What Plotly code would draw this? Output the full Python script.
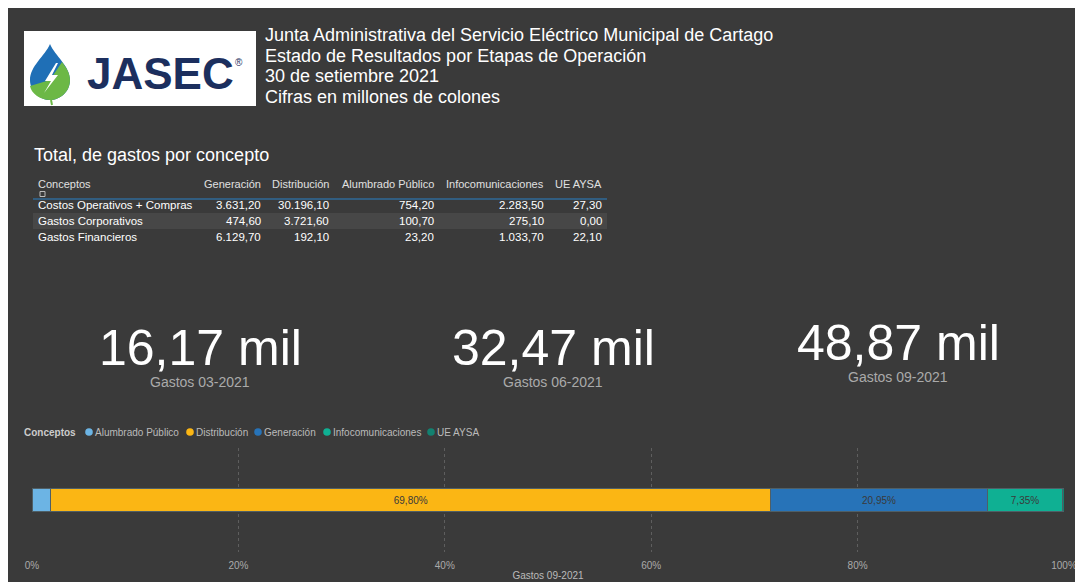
import plotly.graph_objects as go

# figure size and on-screen origin of the figure (body margin)
FW, FH = 1075, 582
OX, OY = 8, 8

# ---------------- data ----------------
title_lines = [
    "Junta Administrativa del Servicio Eléctrico Municipal de Cartago",
    "Estado de Resultados por Etapas de Operación",
    "30 de setiembre 2021",
    "Cifras en millones de colones",
]
table_title = "Total, de gastos por concepto"
table_columns = ["Generación", "Distribución", "Alumbrado Público", "Infocomunicaciones", "UE AYSA"]
row_labels = ["Costos Operativos + Compras", "Gastos Corporativos", "Gastos Financieros"]
generacion = [3631.20, 474.60, 6129.70]
distribucion = [30196.10, 3721.60, 192.10]
alumbrado = [754.20, 100.70, 23.20]
infocom = [2283.50, 275.10, 1033.70]
ue_aysa = [27.30, 0.00, 22.10]

kpi_values = ["16,17 mil", "32,47 mil", "48,87 mil"]
kpi_labels = ["Gastos 03-2021", "Gastos 06-2021", "Gastos 09-2021"]

bar_categories = ["Alumbrado Público", "Distribución", "Generación", "Infocomunicaciones", "UE AYSA"]
bar_totals = [sum(alumbrado), sum(distribucion), sum(generacion), sum(infocom), sum(ue_aysa)]
bar_colors = ["#6cb4e4", "#fbb614", "#2773b8", "#0fb093", "#138170"]
x_ticks = [0, 20, 40, 60, 80, 100]

# ---------------- helpers (screen pixel -> paper) ----------------
def px(x):
    return (x - OX) / FW

def py(y):
    return 1 - (y - OY) / FH

def fmt(v):
    s = f"{v:,.2f}"
    return s.replace(",", "X").replace(".", ",").replace("X", ".")

FONT = "Liberation Sans, Arial, sans-serif"
BG = "#3a3a3a"

fig = go.Figure()

# ---------------- bar chart ----------------
grand = sum(bar_totals)
for cat, val, col in zip(bar_categories, bar_totals, bar_colors):
    pct = val / grand * 100
    fig.add_trace(go.Bar(
        x=[val], y=["Gastos 09-2021"], orientation="h", name=cat,
        marker=dict(color=col, line=dict(color="#4f5f66", width=1)),
        text=[f"{pct:.2f}%".replace(".", ",")], textposition="inside",
        insidetextanchor="middle",
        insidetextfont=dict(color="#3a3a3a", size=10, family=FONT),
        width=0.22, showlegend=False, hoverinfo="name+x",
    ))

fig.update_layout(
    width=FW, height=FH,
    margin=dict(l=0, r=0, t=0, b=0, autoexpand=False),
    paper_bgcolor=BG, plot_bgcolor="rgba(0,0,0,0)",
    barmode="stack", barnorm="percent",
    separators=",.",
    uniformtext=dict(minsize=9, mode="hide"),
    font=dict(family=FONT, color="#bbbbbb"),
    showlegend=False,
    xaxis=dict(
        domain=[px(32), px(1064)], range=[0, 100], automargin=False,
        tickvals=x_ticks, ticktext=[f"{t}%" for t in x_ticks],
        tickfont=dict(size=10, color="#aaaaaa"),
        showgrid=True, gridcolor="#5e5e5e", griddash="dot", gridwidth=1,
        zeroline=False, showline=False, ticks="",
        ticklabelstandoff=6,
        title=dict(text="Gastos 09-2021", font=dict(size=10, color="#bbbbbb"), standoff=1),
    ),
    yaxis=dict(
        domain=[py(552), py(448)], visible=False, range=[-0.5, 0.5], automargin=False,
    ),
)

shapes = []
# logo box
shapes.append(dict(type="rect", xref="paper", yref="paper", x0=px(24), x1=px(256), y0=py(106), y1=py(31),
                   fillcolor="white", line=dict(width=0), layer="below"))

def path(points_cmd):
    out = []
    for tok in points_cmd:
        if isinstance(tok, str):
            out.append(tok)
        else:
            out.append(f"{px(tok[0]):.5f},{py(tok[1]):.5f}")
    return " ".join(out)

drop = path(["M", (50, 44), "C", (45, 56), (30, 66), (30, 80), "C", (30, 92), (40, 100), (50, 100),
             "C", (60, 100), (70, 92), (70, 80), "C", (70, 66), (55, 56), (50, 44), "Z"])
green = path(["M", (70, 80), "C", (70, 92), (60, 100), (50, 100), "C", (40, 100), (31, 93), (30, 86),
              "L", (50, 80), "L", (62, 62), "C", (66, 67), (70, 73), (70, 80), "Z"])
bolt = path(["M", (56, 63), "L", (45, 81), "L", (51, 81), "L", (44, 93), "L", (58, 75), "L", (52, 75),
             "L", (58, 63), "Z"])
shapes.append(dict(type="path", xref="paper", yref="paper", path=drop, fillcolor="#1f6fb6", line=dict(width=0)))
shapes.append(dict(type="path", xref="paper", yref="paper", path=green, fillcolor="#6cb846", line=dict(width=0)))
shapes.append(dict(type="path", xref="paper", yref="paper", path=bolt, fillcolor="white", line=dict(width=0)))
shapes.append(dict(type="line", xref="paper", yref="paper", x0=px(51), x1=px(52), y0=py(100), y1=py(105),
                   line=dict(color="#6cb846", width=2)))

# table row band and header line
shapes.append(dict(type="rect", xref="paper", yref="paper", x0=px(33), x1=px(607), y0=py(229), y1=py(213),
                   fillcolor="#474747", line=dict(width=0), layer="below"))
shapes.append(dict(type="line", xref="paper", yref="paper", x0=px(33), x1=px(607), y0=py(199), y1=py(199),
                   line=dict(color="#2f6a99", width=1.5)))
shapes.append(dict(type="rect", xref="paper", yref="paper", x0=px(40), x1=px(45), y0=py(196.5), y1=py(191.5),
                   fillcolor="rgba(0,0,0,0)", line=dict(color="#bbbbbb", width=1)))

annotations = []

def ann(text, x, y, size, color="white", xanchor="left", bold=False, family=FONT):
    annotations.append(dict(
        text=f"<b>{text}</b>" if bold else text, x=px(x), y=py(y), xref="paper", yref="paper",
        xanchor=xanchor, yanchor="middle", showarrow=False,
        font=dict(size=size, color=color, family=family), borderpad=0,
    ))

# legend (compact, Power BI style)
legend_circle_x = [89, 190, 258, 327, 431]
ann("Conceptos", 23, 432, 10, color="#cccccc", bold=True)
for cat, col, cx in zip(bar_categories, bar_colors, legend_circle_x):
    shapes.append(dict(type="circle", xref="paper", yref="paper",
                       x0=px(cx - 3.8), x1=px(cx + 3.8), y0=py(435.8), y1=py(428.2),
                       fillcolor=col, line=dict(width=0)))
    ann(cat, cx + 5, 432, 10, color="#bbbbbb")

# logo text
ann("JASEC", 86, 73, 44, color="#1c2f5e", bold=True)
ann("®", 234, 62, 10, color="#1c2f5e")

# title lines
for i, line in enumerate(title_lines):
    ann(line, 264, 35 + i * 20.5, 18, color="white")

# table
ann(table_title, 33, 155, 18, color="white")
col_right = [262, 330, 435, 545, 603]
ann("Conceptos", 37, 184, 11, color="#e0e0e0")
for c, xr in zip(table_columns, col_right):
    ann(c, xr, 184, 11, color="#e0e0e0", xanchor="right")
cols = [generacion, distribucion, alumbrado, infocom, ue_aysa]
for r, lab in enumerate(row_labels):
    yy = 205 + r * 16
    ann(lab, 37, yy, 11.5, color="white")
    for col_vals, xr in zip(cols, col_right):
        ann(fmt(col_vals[r]), xr, yy, 11.5, color="white", xanchor="right")

# KPI cards
kpi_x = [200, 553, 898]
kpi_y = [348, 348, 343]
for v, lab, xx, yy in zip(kpi_values, kpi_labels, kpi_x, kpi_y):
    ann(v, xx, yy, 50, color="white", xanchor="center")
    ann(lab, xx, yy + 34, 14, color="#aaaaaa", xanchor="center")

fig.update_layout(shapes=shapes, annotations=annotations)

fig.write_html(
    "out.html",
    post_script=(
        "document.documentElement.style.overflow='hidden';"
        "document.body.style.overflow='hidden';"
        "document.body.style.margin='8px 0 0 8px';"
    ),
)
